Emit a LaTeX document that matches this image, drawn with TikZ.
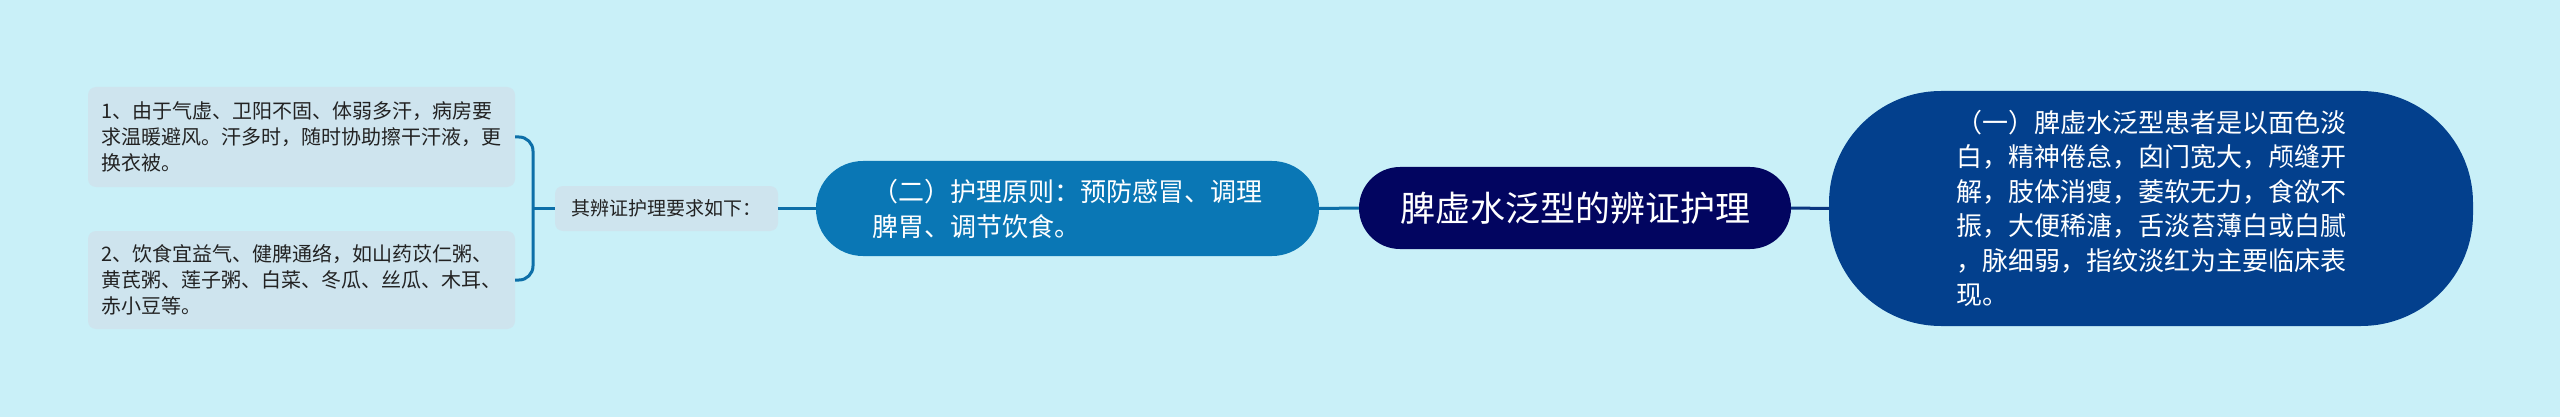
\documentclass[tikz,border=0pt]{standalone}
\usepackage{fontspec}
\newfontfamily\cjk{Noto Sans CJK SC}
\definecolor{bgcolor}{RGB}{201,240,248}
\definecolor{leaffill}{RGB}{206,228,238}
\definecolor{rootfill}{RGB}{2,5,96}
\definecolor{onefill}{RGB}{3,64,141}
\definecolor{twofill}{RGB}{10,119,181}
\definecolor{lineblue}{RGB}{13,111,168}
\definecolor{linenavy}{RGB}{10,53,128}
\definecolor{leaftext}{RGB}{34,34,34}

\tikzset{
  pillbox/.style={rectangle, inner sep=0pt, text=white, align=left},
  leafbox/.style={rectangle, inner sep=0pt, fill=leaffill, rounded corners=8pt,
    text=leaftext, align=left, minimum width=427, font=\cjk\fontsize{20}{26}\selectfont},
  branch/.style={line width=3pt, lineblue},
}

\begin{document}
\begin{tikzpicture}[x=1pt,y=-1pt]
\fill[bgcolor] (0,0) rectangle (2560,417);
\useasboundingbox (0,0) rectangle (2560,417);

% centre topic
\node[pillbox, fill=rootfill, rounded corners=41pt, minimum width=432, minimum height=82,
  font=\cjk\fontsize{35}{42}\selectfont] (root) at (1575,208) {脾虚水泛型的辨证护理};

% right branch
\node[pillbox, fill=onefill, rounded corners=112pt, minimum width=644, minimum height=235,
  font=\cjk\fontsize{26}{34.5}\selectfont] (one) at (2151,208.5)
  {（一）脾虚水泛型患者是以面色淡\\白，精神倦怠，囟门宽大，颅缝开\\解，肢体消瘦，萎软无力，食欲不\\振，大便稀溏，舌淡苔薄白或白腻\\，脉细弱，指纹淡红为主要临床表\\现。};

% left branch
\node[pillbox, fill=twofill, rounded corners=47pt, minimum width=503, minimum height=95,
  font=\cjk\fontsize{26}{35}\selectfont] (two) at (1067.5,208.5)
  {（二）护理原则：预防感冒、调理\\脾胃、调节饮食。};

\node[rectangle, inner sep=0pt, fill=leaffill, rounded corners=8pt, text=leaftext,
  minimum width=223, minimum height=45, font=\cjk\fontsize{19}{24}\selectfont]
  (req) at (666.5,208.5) {其辨证护理要求如下：};

\node[leafbox, minimum height=100] (care) at (301.5,137)
  {1、由于气虚、卫阳不固、体弱多汗，病房要\\求温暖避风。汗多时，随时协助擦干汗液，更\\换衣被。};
\node[leafbox, minimum height=98] (diet) at (301.5,280)
  {2、饮食宜益气、健脾通络，如山药苡仁粥、\\黄芪粥、莲子粥、白菜、冬瓜、丝瓜、木耳、\\赤小豆等。};

% connectors
\draw[line width=3pt, linenavy] (root.east) -- (one.west);
\draw[branch] (root.west) -- (two.east);
\draw[branch] (two.west) -- (req.east);
\coordinate (fork) at (533,208.5);
\draw[branch] (req.west) -- (fork);
\draw[branch, rounded corners=14pt] (care.east) -| (fork) |- (diet.east);
\end{tikzpicture}
\end{document}
